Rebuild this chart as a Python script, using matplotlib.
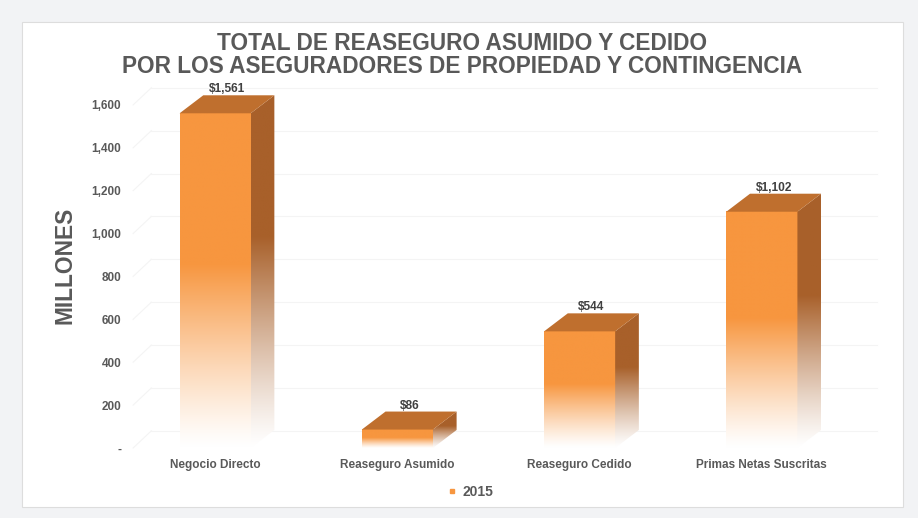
import numpy as np
import matplotlib.pyplot as plt
from matplotlib.patches import Polygon, Rectangle
from matplotlib.lines import Line2D
from matplotlib.colors import to_rgb

plt.rcParams["font.family"] = ["Liberation Sans", "DejaVu Sans"]

categories = ["Negocio Directo", "Reaseguro Asumido", "Reaseguro Cedido", "Primas Netas Suscritas"]
values = [1561, 86, 544, 1102]
yticks = [0, 200, 400, 600, 800, 1000, 1200, 1400, 1600]
ytick_labels = ["-", "200", "400", "600", "800", "1,000", "1,200", "1,400", "1,600"]
series_name = "2015"

TEXT = "#595959"
FRONT = "#f7963f"
SIDE = "#a8602a"
TOP = "#bf6f2e"
GRID = "#f4f4f4"

BAR_W = 0.39
DX = 0.13   # depth offset, category units
DY = 84     # depth offset, value units


def gradient(color, n=256, solid_from=0.55, power=1.2):
    t = np.linspace(0, 1, n)
    f = np.clip(t / solid_from, 0, 1) ** power
    c = np.array(to_rgb(color))
    rgb = (1 - f)[:, None] * np.ones(3) + f[:, None] * c
    return rgb[:, None, :]


fig = plt.figure(figsize=(9.18, 5.18), dpi=100)
fig.patch.set_facecolor("#f2f3f5")
fig.patches.append(Rectangle((22 / 918, 1 - 507 / 518), 881 / 918, 485 / 518,
                             transform=fig.transFigure, facecolor="white",
                             edgecolor="#dddddd", linewidth=0.8, zorder=-5))

ax = fig.add_axes([124 / 918, 1 - 448 / 518, 729 / 918, 0.6954])
ax.set_zorder(2)
ax.set_xlim(-0.5, 3.5)
ax.set_ylim(0, 1680)
ax.set_facecolor("none")
for s in ax.spines.values():
    s.set_visible(False)

# faint 3D walls: diagonal on left wall, horizontal on back wall
for v in yticks:
    ax.plot([-0.45, -0.45 + 0.1], [v, v + 80], color=GRID, lw=0.8, zorder=1, clip_on=False)
    ax.plot([-0.35, 3.5 + DX], [v + 80, v + 80], color=GRID, lw=0.8, zorder=1, clip_on=False)

for i, v in enumerate(values):
    x0, x1 = i - BAR_W / 2, i + BAR_W / 2
    # front face
    ax.imshow(gradient(FRONT), extent=(x0, x1, 0, v), origin="lower",
              aspect="auto", zorder=3, interpolation="bilinear")
    # side face
    side = Polygon([(x1, 0), (x1 + DX, DY), (x1 + DX, v + DY), (x1, v)], closed=True,
                   facecolor="none", edgecolor="none", transform=ax.transData)
    ax.add_patch(side)
    ims = ax.imshow(gradient(SIDE, solid_from=0.6), extent=(x1, x1 + DX, 0, v + DY),
                    origin="lower", aspect="auto", zorder=3, interpolation="bilinear")
    ims.set_clip_path(side)
    # top face
    ax.add_patch(Polygon([(x0, v), (x1, v), (x1 + DX, v + DY), (x0 + DX, v + DY)],
                         closed=True, facecolor=TOP, edgecolor="none", zorder=4))
    ax.annotate(f"${v:,}", (i + DX / 2, v + DY), xytext=(0, 0), textcoords="offset points",
                ha="center", va="bottom", fontsize=8.6, fontweight="bold", color="#404040")

ax.set_xlim(-0.5, 3.5)
ax.set_ylim(0, 1680)

ax.set_xticks(range(len(categories)))
ax.set_xticklabels(categories, fontsize=8.5, fontweight="bold", color=TEXT)
for lbl in ax.get_xticklabels():
    lbl.set_verticalalignment("baseline")
ax.set_yticks(yticks)
ax.set_yticklabels(ytick_labels, fontsize=8.5, fontweight="bold", color=TEXT)
ax.tick_params(axis="both", length=0)
ax.tick_params(axis="x", pad=14.5)
ax.tick_params(axis="y", pad=2)

fig.text(65 / 918, 1 - 265 / 518, "MILLONES", rotation=90, ha="center", va="center",
         fontsize=16.4, fontweight="bold", color=TEXT)

fig.text(462 / 918, 1 - 55 / 518,
         "TOTAL DE REASEGURO ASUMIDO Y CEDIDO\nPOR LOS ASEGURADORES DE PROPIEDAD Y CONTINGENCIA",
         ha="center", va="center", fontsize=16.3, fontweight="bold", color=TEXT,
         linespacing=0.95)

handle = Line2D([], [], marker="s", markersize=3, linestyle="none", color=FRONT)
fig.legend([handle], [series_name], loc="center", bbox_to_anchor=(470 / 918, 1 - 492 / 518),
           frameon=False, handletextpad=0.3, prop={"size": 10, "weight": "bold"},
           labelcolor=TEXT, handlelength=0.8)

fig.savefig("out.png", dpi=100, facecolor=fig.get_facecolor())
